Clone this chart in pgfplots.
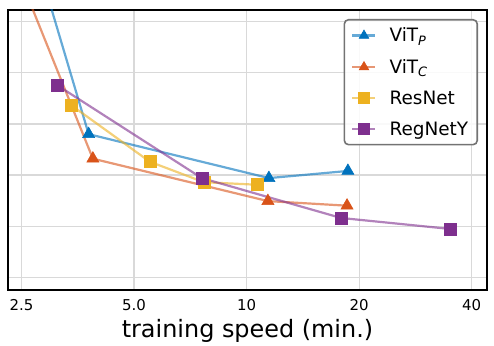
\documentclass[border=0pt]{standalone}
\usepackage{fontspec}
\setmainfont{DejaVu Sans}
\usepackage{pgfplots}
\pgfplotsset{compat=1.18}
\definecolor{cP}{HTML}{0072BD}
\definecolor{cC}{HTML}{D95319}
\definecolor{cR}{HTML}{EDB120}
\definecolor{cY}{HTML}{7E2F8E}
\begin{document}
\begin{tikzpicture}
\begin{axis}[
  scale only axis,
  width=479bp, height=280bp,
  xmode=log, log basis x=2,
  xmin=2.30, xmax=43.95,
  ymin=-0.25, ymax=5.23,
  xtick={2.5,5,10,20,40},
  xticklabels={2.5,5.0,10,20,40},
  ytick={0,1,2,3,4,5},
  yticklabels={},
  major tick length=0pt,
  grid=major,
  grid style={draw=black!15, line width=1.2bp},
  axis line style={black, line width=1.8bp},
  /pgf/number format/assume math mode=true,
  xticklabel style={font=\fontsize{15}{17}\selectfont, yshift=-6bp},
  xlabel={training speed (min.)},
  xlabel style={font=\fontsize{24}{27}\selectfont, yshift=-2bp},
  legend style={at={(1,1)}, anchor=north east, xshift=-9bp, yshift=-9bp,
    draw=black!55, line width=1.6bp, rounded corners=4bp,
    fill=white, fill opacity=0.85, text opacity=1,
    font=\fontsize{18.5}{21}\selectfont,
    row sep=12bp, inner xsep=7bp, inner ysep=6bp},
  legend cell align=left,
  legend image code/.code={\draw[#1, line width=2.2bp, mark size=5.5bp, mark repeat=2, mark phase=2] plot coordinates {(0bp,0bp) (11.5bp,0bp) (23bp,0bp)}; \path (34bp,0bp);},
  every axis plot/.append style={line width=2.2bp, draw opacity=0.6},
]
\addplot[color=cP, mark=triangle*, mark size=7bp, mark options={draw opacity=1, fill opacity=1, line width=0.6bp}]
  coordinates {(2.65,6.60) (3.78,2.80) (11.47,1.94) (18.66,2.08)};
\addlegendentry{ViT\textsubscript{\itshape P}}
\addplot[color=cC, mark=triangle*, mark size=7bp, mark options={draw opacity=1, fill opacity=1, line width=0.6bp}]
  coordinates {(2.43,6.01) (3.88,2.32) (11.40,1.49) (18.56,1.40)};
\addlegendentry{ViT\textsubscript{\itshape C}}
\addplot[color=cR, mark=square*, mark size=6bp, mark options={draw opacity=1, fill opacity=1, line width=0.6bp}]
  coordinates {(3.39,3.37) (5.51,2.26) (7.69,1.86) (10.66,1.81)};
\addlegendentry{ResNet}
\addplot[color=cY, mark=square*, mark size=6bp, mark options={draw opacity=1, fill opacity=1, line width=0.6bp}]
  coordinates {(3.11,3.76) (7.59,1.94) (17.88,1.16) (35.0,0.945)};
\addlegendentry{RegNetY}
\end{axis}
\pgfresetboundingbox
\useasboundingbox (-8bp,-56bp) rectangle (486bp,290bp);
\end{tikzpicture}
\end{document}
